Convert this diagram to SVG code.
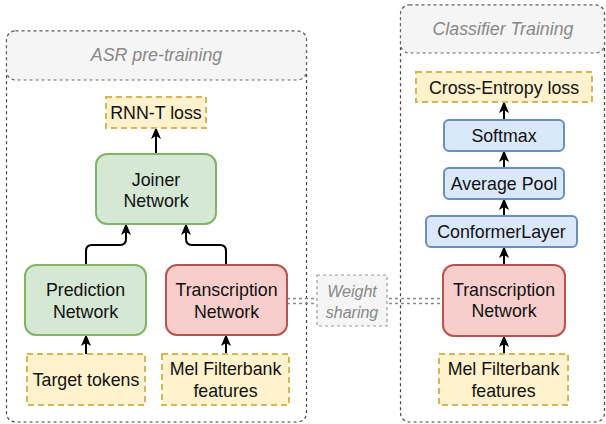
<svg xmlns="http://www.w3.org/2000/svg" width="606" height="424" viewBox="0 0 606 424">
<style>
text{font-family:"Liberation Sans",Arial,sans-serif;font-size:17.8px;fill:#111;text-anchor:middle;dominant-baseline:central}
.hdr{font-style:italic;fill:#888}
.ws{font-style:italic;fill:#888;font-size:16px}
.frame{fill:none;stroke:#444;stroke-width:1.2;stroke-dasharray:3 3}
.head{fill:#f5f5f5;stroke:#666;stroke-width:1.2;stroke-dasharray:3 3}
.green{fill:#d5e8d4;stroke:#82b366;stroke-width:2}
.red{fill:#f8cecc;stroke:#b85450;stroke-width:2}
.blue{fill:#dae8fc;stroke:#6c8ebf;stroke-width:2}
.yel{fill:#fff2cc;stroke:#d6b656;stroke-width:2;stroke-dasharray:6 4}
.arr{fill:none;stroke:#000;stroke-width:2;marker-end:url(#ah)}
.link{fill:none;stroke:#888;stroke-width:1.5;stroke-dasharray:3 3}
.wsbox{fill:#f5f5f5;stroke:#999;stroke-width:1.2;stroke-dasharray:3 3}
</style>
<defs>
<marker id="ah" markerUnits="userSpaceOnUse" markerWidth="12" markerHeight="12" viewBox="0 0 12 12" refX="11" refY="6" orient="auto">
<path d="M0,1 L12,6 L0,11 L3,6 z" fill="#000"/>
</marker>
</defs>
<g id="asr-container">
<rect class="frame" x="6.5" y="31" width="300" height="391" rx="9"/>
<rect class="head" x="6.5" y="31" width="300" height="49" rx="9"/>
<text class="hdr" x="156.5" y="55">ASR pre-training</text>
</g>
<g id="cls-container">
<rect class="frame" x="400.5" y="5" width="204" height="417" rx="9"/>
<rect class="head" x="400.5" y="5" width="204" height="48" rx="9"/>
<text class="hdr" x="503" y="29">Classifier Training</text>
</g>
<g id="connectors">
<path class="arr" d="M156 154 V128"/>
<path class="arr" d="M86 265 V251 Q86 245 92 245 H120 Q126 245 126 239 V224"/>
<path class="arr" d="M226 265 V251 Q226 245 220 245 H192 Q186 245 186 239 V224"/>
<path class="arr" d="M86 354 V335"/>
<path class="arr" d="M226 354 V335"/>
<path class="arr" d="M504 354 V336"/>
<path class="arr" d="M504 265 V247"/>
<path class="arr" d="M504 216 V199"/>
<path class="arr" d="M504 168 V151"/>
<path class="arr" d="M504 120 V102"/>
<path class="link" d="M287 298.5 H443 M287 303.5 H443"/>
</g>
<g id="rnnt-loss"><rect class="yel" x="106" y="97" width="100" height="31"/><text x="156" y="112.5">RNN-T loss</text></g>
<g id="joiner"><rect class="green" x="96" y="154" width="120" height="70" rx="11"/><text x="156" y="180">Joiner</text><text x="156" y="201">Network</text></g>
<g id="prediction"><rect class="green" x="25" y="265" width="121" height="70" rx="11"/><text x="85.5" y="290">Prediction</text><text x="85.5" y="312">Network</text></g>
<g id="transcription-left"><rect class="red" x="166" y="265" width="121" height="70" rx="11"/><text x="226.5" y="290">Transcription</text><text x="226.5" y="312">Network</text></g>
<g id="target-tokens"><rect class="yel" x="27" y="354" width="118" height="51"/><text x="86" y="380">Target tokens</text></g>
<g id="mel-left"><rect class="yel" x="162" y="354" width="127" height="51"/><text x="225.5" y="369">Mel Filterbank</text><text x="225.5" y="391">features</text></g>
<g id="weight-sharing"><rect class="wsbox" x="317" y="275" width="70" height="51"/><text class="ws" x="352" y="291">Weight</text><text class="ws" x="352" y="312">sharing</text></g>
<g id="ce-loss"><rect class="yel" x="416" y="72" width="176" height="30"/><text x="504" y="87.5">Cross-Entropy loss</text></g>
<g id="softmax"><rect class="blue" x="444" y="120" width="120" height="31" rx="5"/><text x="504" y="135.5">Softmax</text></g>
<g id="avgpool"><rect class="blue" x="444" y="168" width="120" height="31" rx="5"/><text x="504" y="183.5">Average Pool</text></g>
<g id="conformer"><rect class="blue" x="426" y="216" width="151" height="31" rx="5"/><text x="501.5" y="231.5">ConformerLayer</text></g>
<g id="transcription-right"><rect class="red" x="443" y="265" width="122" height="71" rx="11"/><text x="504" y="290">Transcription</text><text x="504" y="311">Network</text></g>
<g id="mel-right"><rect class="yel" x="439" y="354" width="129" height="51"/><text x="503.5" y="369">Mel Filterbank</text><text x="503.5" y="391">features</text></g>
</svg>
